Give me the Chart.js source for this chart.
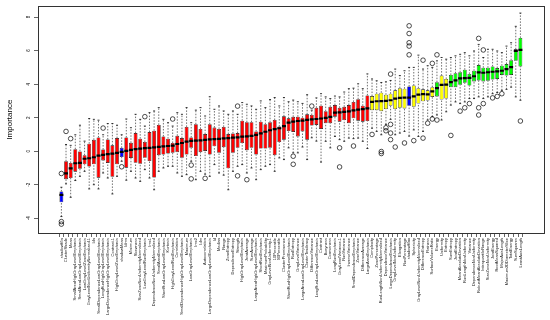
<!DOCTYPE html>
<html>
<head>
<meta charset="utf-8">
<script src="https://cdn.jsdelivr.net/npm/chart.js@4.4.1/dist/chart.umd.min.js"></script>
<style>
  html, body { margin: 0; padding: 0; background: #fff; }
  #wrap { width: 550px; height: 320px; position: relative; }
</style>
</head>
<body>
<div id="wrap"><canvas id="imp"></canvas></div>
<script>
// attributes, in plot order (sorted by median importance)
const names = [
  'shadowMin', 'ClusterShade', 'Mean', 'SmallAreaHighGrayLevelEmphasis', 'SmallAreaLowGrayLevelEmphasis',
  'LowGrayLevelZoneEmphasis', 'GrayLevelNonUniformityNormalized.1', 'Idn', 'SmallDependenceLowGrayLevelEmphasis', 'LongRunHighGrayLevelEmphasis',
  'LargeDependenceHighGrayLevelEmphasis', 'Contrast.1', 'HighGrayLevelZoneEmphasis', 'shadowMean', 'Idmn',
  'Minimum', 'Skewness', 'SizeZoneNonUniformityNormalized', 'LowGrayLevelRunEmphasis', 'Imc1',
  'DependenceNonUniformityNormalized', 'SmallAreaEmphasis', 'ShortRunLowGrayLevelEmphasis', 'Kurtosis', 'HighGrayLevelRunEmphasis',
  'Correlation', 'SmallDependenceHighGrayLevelEmphasis', 'Maximum', 'LowGrayLevelEmphasis', 'Imc2',
  'Idm', 'Autocorrelation', 'LargeDependenceLowGrayLevelEmphasis', 'Id', 'Median',
  'Range', 'ZoneEntropy', 'DependenceEntropy', 'Strength', 'HighGrayLevelEmphasis',
  'JointAverage', 'SumAverage', 'LargeAreaHighGrayLevelEmphasis', 'ShortRunEmphasis', 'MaximumProbability',
  'GrayLevelNonUniformity.1', '10Percentile', '90Percentile', 'ClusterProminence', 'ShortRunHighGrayLevelEmphasis',
  'RunEntropy', 'GrayLevelVariance', 'LargeAreaLowGrayLevelEmphasis', 'ClusterTendency', 'DifferenceVariance',
  'LongRunLowGrayLevelEmphasis', 'Contrast', 'Busyness', 'Coarseness', 'LongRunEmphasis',
  'GrayLevelVariance.1', 'RunVariance', 'InverseVariance', 'SmallDependenceEmphasis', 'ZoneVariance',
  'DifferenceAverage', 'LargeAreaEmphasis', 'Complexity', 'ZonePercentage', 'RunLengthNonUniformityNormalized',
  'DependenceVariance', 'LargeDependenceEmphasis', 'GrayLevelNonUniformity', 'Elongation', 'RunPercentage',
  'shadowMax', 'Sphericity', 'GrayLevelNonUniformityNormalized', 'DifferenceEntropy', 'Flatness',
  'SurfaceVolumeRatio', 'Energy', 'Uniformity', 'Entropy', 'SumEntropy',
  'JointEntropy', 'MeanAbsoluteDeviation', 'RunLengthNonUniformity', 'Variance', 'DependenceNonUniformity',
  'RobustMeanAbsoluteDeviation', 'InterquartileRange', 'SizeZoneNonUniformity', 'JointEnergy', 'RootMeanSquared',
  'MajorAxisLength', 'Maximum2DDiameterSlice', 'TotalEnergy', 'SumSquares', 'LeastAxisLength'
];

// S = shadow, R = rejected, T = tentative, C = confirmed
const decision = [
  'S','R','R','R','R','R','R','R','R','R',
  'R','R','R','S','R','R','R','R','R','R',
  'R','R','R','R','R','R','R','R','R','R',
  'R','R','R','R','R','R','R','R','R','R',
  'R','R','R','R','R','R','R','R','R','R',
  'R','R','R','R','R','R','R','R','R','R',
  'R','R','R','R','R','R','R','T','T','T',
  'T','T','T','T','T','S','T','T','T','T',
  'T','C','T','T','C','C','C','C','C','C',
  'C','C','C','C','C','C','C','C','C','C'
];

const whiskLo = [
  -3.9, -1.95, -2.75, -1.75, -1.5, -1.2, -2.25, -2.0, -2.25, -1.3,
  -1.6, -2.55, -1.5, -0.6, -1.73, -1.2, -1.6, -1.8, -1.1, -1.6,
  -2.3, -1.2, -1.0, -0.9, -0.9, -1.3, -1.5, -1.4, -0.6, -1.7,
  -1.2, -1.37, -1.5, -0.8, -1.3, -1.43, -2.3, -1.2, -0.9, -0.8,
  -1.3, -1.0, -1.7, -1.1, -0.9, -0.8, -1.2, -0.4, -0.5, 0.2,
  -0.1, -0.1, 0.25, -0.5, 0.8, 0.6, -0.65, 0.59, 0.2, 0.88,
  0.69, 0.59, 0.78, 0.75, 0.78, 0.59, 0.16, 1.37, 1.18, 0.98,
  1.6, 1.9, 0.98, 1.08, 1.18, 0.9, 1.27, 0.88, 1.18, 1.86,
  2.06, 2.16, 1.86, 2.35, 2.75, 2.94, 2.84, 2.94, 3.14, 3.14,
  3.24, 3.14, 3.24, 3.43, 3.5, 3.63, 3.69, 3.82, 3.24, 3.04
];
const q1 = [
  -3.05, -1.67, -1.6, -1.22, -1.05, -0.78, -0.92, -0.78, -1.58, -0.55,
  -0.7, -1.53, -0.78, -0.35, -0.98, -0.4, -0.69, -0.75, -0.39, -0.59,
  -1.57, -0.24, -0.2, -0.14, -0.1, -0.06, -0.39, -0.2, 0.2, -0.29,
  -0.06, 0.0, -0.2, 0.29, -0.1, 0.24, -1.02, -0.1, 0.2, 0.49,
  0.06, 0.2, -0.2, 0.16, 0.16, 0.2, -0.24, 0.55, 0.69, 1.2,
  1.15, 0.88, 1.18, 0.69, 1.53, 1.57, 1.33, 1.67, 1.67, 2.06,
  1.76, 1.86, 1.67, 1.96, 1.82, 1.76, 1.8, 2.45, 2.45, 2.39,
  2.51, 2.71, 2.51, 2.59, 2.55, 2.71, 2.65, 2.84, 2.98, 3.02,
  3.24, 3.27, 3.08, 3.14, 3.82, 3.82, 3.96, 4.08, 3.92, 4.16,
  4.22, 4.16, 4.2, 4.27, 4.31, 4.55, 4.51, 4.55, 5.39, 5.06
];
const median = [
  -2.6, -1.32, -1.02, -0.72, -0.7, -0.45, -0.42, -0.36, -0.26, -0.22,
  -0.17, -0.15, -0.1, -0.04, 0.02, 0.08, 0.12, 0.15, 0.18, 0.2,
  0.23, 0.26, 0.29, 0.31, 0.33, 0.43, 0.49, 0.57, 0.61, 0.63,
  0.65, 0.67, 0.7, 0.72, 0.74, 0.76, 0.78, 0.81, 0.83, 0.87,
  0.88, 0.91, 0.97, 1.06, 1.16, 1.25, 1.32, 1.37, 1.5, 1.7,
  1.77, 1.8, 1.82, 1.87, 1.9, 1.92, 1.95, 1.99, 2.05, 2.3,
  2.32, 2.35, 2.37, 2.43, 2.48, 2.51, 2.55, 2.94, 2.98, 2.99,
  3.0, 3.04, 3.14, 3.18, 3.19, 3.2, 3.27, 3.37, 3.41, 3.39,
  3.57, 3.76, 3.96, 3.97, 4.12, 4.22, 4.34, 4.36, 4.38, 4.47,
  4.7, 4.68, 4.71, 4.74, 4.76, 4.8, 4.9, 5.02, 5.98, 6.04
];
const q3 = [
  -2.4, -0.6, -0.7, 0.12, 0.0, -0.24, 0.45, 0.68, 0.82, 0.1,
  0.7, 0.35, 0.78, 0.2, 0.82, 0.5, 1.08, 0.75, 0.55, 1.14,
  1.22, 1.57, 0.88, 0.75, 0.49, 0.92, 0.78, 1.45, 0.82, 1.61,
  1.33, 1.02, 1.61, 1.41, 1.33, 1.45, 1.02, 1.06, 1.08, 1.82,
  1.73, 1.73, 1.18, 1.76, 1.61, 1.73, 1.86, 1.47, 2.08, 1.96,
  2.05, 2.06, 2.0, 2.2, 2.16, 2.59, 2.71, 2.39, 2.65, 2.75,
  2.59, 2.65, 2.75, 2.94, 3.1, 2.71, 3.33, 3.29, 3.43, 3.49,
  3.37, 3.43, 3.63, 3.76, 3.73, 3.86, 3.92, 3.76, 3.69, 3.63,
  3.82, 4.12, 4.51, 4.31, 4.55, 4.65, 4.71, 4.86, 4.61, 4.8,
  5.14, 4.98, 4.98, 5.06, 4.96, 5.1, 5.2, 5.43, 6.08, 6.76
];
const whiskHi = [
  -2.15, 0.4, 0.35, 0.98, 1.55, 0.6, 1.95, 1.9, 1.85, 0.98,
  1.65, 1.65, 1.55, 0.98, 1.92, 1.4, 2.2, 1.9, 1.5, 2.3,
  2.4, 2.6, 1.9, 1.7, 1.5, 2.3, 2.2, 2.6, 1.7, 2.45,
  2.6, 2.1, 3.25, 2.5, 2.7, 2.4, 2.2, 2.4, 2.2, 2.9,
  2.8, 2.7, 2.5, 3.0, 2.6, 3.08, 3.2, 2.7, 3.2, 2.95,
  3.05, 2.95, 2.85, 3.37, 2.45, 3.18, 3.43, 3.24, 3.14, 3.29,
  3.24, 3.53, 3.73, 3.76, 4.02, 3.73, 4.61, 4.31, 4.2, 4.1,
  4.14, 4.22, 4.9, 4.51, 4.8, 5.0, 5.0, 5.73, 4.9, 5.1,
  5.0, 5.39, 5.59, 5.49, 5.59, 5.69, 5.78, 5.88, 5.69, 5.98,
  6.37, 5.59, 6.08, 6.08, 5.98, 5.88, 6.27, 6.47, 7.45, 8.24
];

// outliers: box number (1-based) and value
const outBox = [
  1, 1, 1, 2, 3, 10, 14, 19, 25, 29, 29, 32, 39, 39, 41,
  51, 51, 55, 61, 61, 64, 68, 70, 70, 71, 71, 72, 72, 72, 72,
  73, 75, 76, 76, 76, 76, 76, 77, 79, 79, 80, 81, 81, 82, 82,
  85, 87, 88, 89, 91, 91, 91, 92, 92, 94, 95, 96, 100
];
const outVal = [
  -1.33, -4.2, -4.35, 1.18, 0.75, 1.38, -0.93, 2.06, 1.92, -0.83, -1.65, -1.62, 2.69, -1.47, -1.7,
  -0.3, -0.78, 2.69, 0.2, -0.94, 0.31, 1.0, -0.02, -0.14, 1.4, 1.22, 4.6, 1.6, 1.08, 0.69,
  0.25, 0.49, 7.48, 7.02, 6.47, 6.27, 5.75, 0.63, 5.43, 0.78, 1.67, 5.24, 1.92, 5.75, 1.86,
  0.94, 2.39, 2.59, 2.84, 6.73, 2.59, 2.16, 6.04, 2.84, 3.18, 3.27, 3.43, 1.8
];

const yTicks = [-4, -2, 0, 2, 4, 6, 8];

const fill = { S: '#0000ff', R: '#ff0000', T: '#ffff00', C: '#00ff00' };

const whiskerPts = [];
const capPts = [];
names.forEach(function (n, i) {
  const x = i + 1;
  whiskerPts.push({ x: x, y: whiskLo[i] }, { x: x, y: q1[i] }, { x: x, y: null },
                  { x: x, y: q3[i] }, { x: x, y: whiskHi[i] }, { x: x, y: null });
  capPts.push({ x: x, y: whiskLo[i] }, { x: x, y: whiskHi[i] });
});

const frame = {
  id: 'frame',
  afterDraw: function (chart) {
    const a = chart.chartArea;
    const ctx = chart.ctx;
    ctx.save();
    ctx.strokeStyle = '#333';
    ctx.lineWidth = 1;
    ctx.strokeRect(Math.round(a.left) + 0.5, Math.round(a.top) + 0.5,
                   Math.round(a.right - a.left), Math.round(a.bottom - a.top));
    ctx.restore();
  }
};

Chart.defaults.font.family = "'Liberation Sans', Arial, sans-serif";

new Chart(document.getElementById('imp'), {
  type: 'bar',
  data: {
    datasets: [
      {
        type: 'line',
        label: 'outliers',
        order: 0,
        showLine: false,
        data: outBox.map(function (b, k) { return { x: b, y: outVal[k] }; }),
        pointStyle: 'circle',
        pointRadius: 2.3,
        borderWidth: 0.7,
        borderColor: '#000',
        backgroundColor: 'rgba(0,0,0,0)'
      },
      {
        type: 'line',
        label: 'median',
        order: 1,
        showLine: false,
        data: median.map(function (m, i) { return { x: i + 1, y: m }; }),
        pointStyle: 'line',
        pointRadius: 2,
        borderWidth: 2.2,
        borderColor: '#000'
      },
      {
        label: 'box',
        order: 2,
        data: names.map(function (n, i) { return { x: i + 1, y: [q1[i], q3[i]] }; }),
        backgroundColor: decision.map(function (d) { return fill[d]; }),
        borderColor: '#000',
        borderWidth: 0.6,
        borderSkipped: false,
        barPercentage: 0.82,
        categoryPercentage: 1
      },
      {
        type: 'line',
        label: 'caps',
        order: 3,
        showLine: false,
        data: capPts,
        pointStyle: 'line',
        pointRadius: 1,
        borderWidth: 0.8,
        borderColor: '#000'
      },
      {
        type: 'line',
        label: 'whiskers',
        order: 4,
        data: whiskerPts,
        spanGaps: false,
        pointRadius: 0,
        borderColor: '#333',
        borderWidth: 0.7,
        borderDash: [1.5, 1.5]
      }
    ]
  },
  options: {
    responsive: true,
    maintainAspectRatio: false,
    animation: false,
    events: [],
    layout: { padding: { top: 3, right: 2, left: 0, bottom: 0 } },
    plugins: { legend: { display: false }, tooltip: { enabled: false } },
    scales: {
      x: {
        type: 'linear',
        min: -3.5,
        max: 104.5,
        afterBuildTicks: function (s) { s.ticks = names.map(function (n, i) { return { value: i + 1 }; }); },
        afterFit: function (s) { s.height = 87; },
        grid: { drawOnChartArea: false, drawTicks: true, tickLength: 4, color: '#000', lineWidth: 0.6 },
        border: { display: false },
        ticks: {
          autoSkip: false,
          minRotation: 90,
          maxRotation: 90,
          padding: 1,
          color: '#222',
          font: { size: 4 },
          callback: function (v) { return names[v - 1]; }
        }
      },
      y: {
        min: -4.88,
        max: 8.65,
        afterBuildTicks: function (s) { s.ticks = yTicks.map(function (v) { return { value: v }; }); },
        afterFit: function (s) { s.width = 38; },
        grid: { drawOnChartArea: false, drawTicks: true, tickLength: 4, color: '#000', lineWidth: 0.6 },
        border: { display: false },
        ticks: { color: '#000', font: { size: 4.5 }, padding: 3, minRotation: 90, maxRotation: 90, crossAlign: 'center' },
        title: { display: true, text: 'Importance', color: '#000', font: { size: 8 }, padding: { top: 5, bottom: 0 } }
      }
    }
  },
  plugins: [frame]
});
</script>
</body>
</html>
